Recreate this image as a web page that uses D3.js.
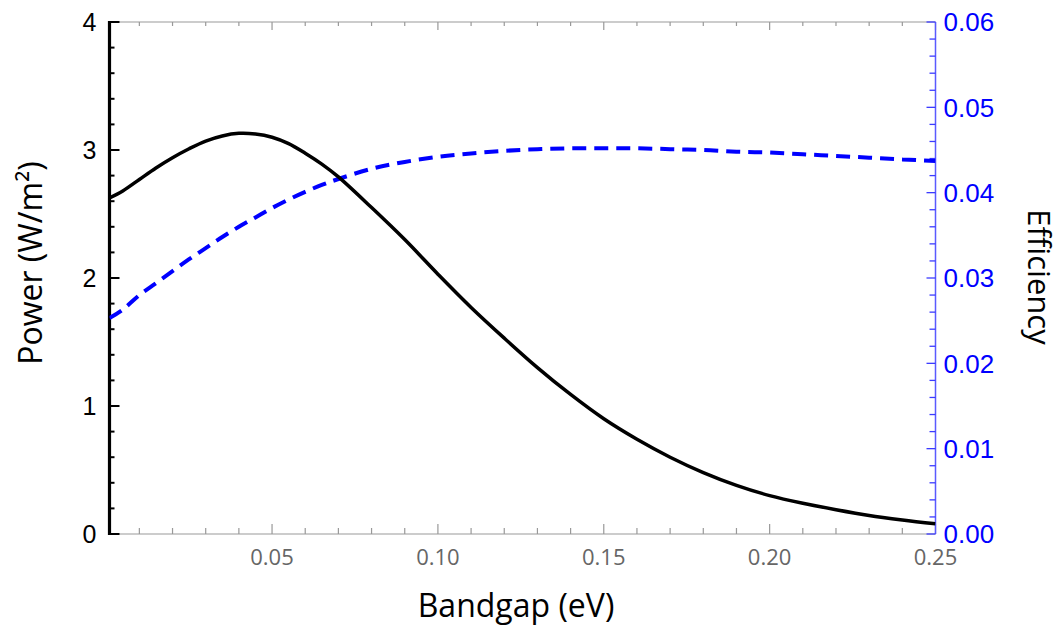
<!DOCTYPE html>
<html>
<head>
<meta charset="utf-8">
<script src="https://cdn.jsdelivr.net/npm/d3@7"></script>
<style>
  html, body { margin: 0; padding: 0; background: #fff; }
  svg { display: block; }
</style>
</head>
<body>
<svg id="chart" width="1063" height="631"></svg>
<script>
// ---- data ----
const bandgap = [0.001, 0.005, 0.01, 0.015, 0.02, 0.025, 0.03, 0.035, 0.04, 0.045, 0.05, 0.055, 0.06,
  0.065, 0.07, 0.08, 0.09, 0.10, 0.11, 0.12, 0.13, 0.14, 0.15, 0.16, 0.17, 0.18, 0.19, 0.20,
  0.21, 0.22, 0.23, 0.24, 0.25];
const power = [2.625, 2.68, 2.77, 2.86, 2.94, 3.01, 3.07, 3.11, 3.13, 3.125, 3.10, 3.05, 2.975,
  2.89, 2.79, 2.55, 2.30, 2.03, 1.77, 1.53, 1.30, 1.09, 0.90, 0.74, 0.60, 0.48, 0.38, 0.30,
  0.24, 0.19, 0.145, 0.11, 0.08];
const efficiency = [0.0253, 0.0263, 0.0280, 0.0294, 0.0308, 0.0322, 0.0335, 0.0348, 0.0360, 0.0371,
  0.0382, 0.0392, 0.0401, 0.0409, 0.0416, 0.0428, 0.0436, 0.0442, 0.0446, 0.0449, 0.0451, 0.0452,
  0.0452, 0.0452, 0.0451, 0.0450, 0.0448, 0.0447, 0.0445, 0.0443, 0.0441, 0.0439, 0.0437];
const xTickValues = [0.05, 0.10, 0.15, 0.20, 0.25];
const xTickLabels = ["0.05", "0.10", "0.15", "0.20", "0.25"];
const powerTicks = [0, 1, 2, 3, 4];
const powerTickLabels = ["0", "1", "2", "3", "4"];
const effTicks = [0, 0.01, 0.02, 0.03, 0.04, 0.05, 0.06];
const effTickLabels = ["0.00", "0.01", "0.02", "0.03", "0.04", "0.05", "0.06"];
const xTitle = "Bandgap (eV)";
const yLeftTitle = "Power (W/m²)";
const yRightTitle = "Efficiency";

(function () {
// ---- layout ----
const svg = d3.select("#chart");
const pLeft = 109.5, pRight = 935.5, pTop = 22, pBottom = 534;

const x = d3.scaleLinear().domain([0.001, 0.25]).range([pLeft, pRight]);
const yP = d3.scaleLinear().domain([0, 4]).range([pBottom, pTop]);
const yE = d3.scaleLinear().domain([0, 0.06]).range([pBottom, pTop]);

const xMinor = d3.range(1, 26).map(i => i / 100);
const pMinor = d3.range(0, 21).map(i => i / 5);
const eMinor = d3.range(0, 31).map(i => i * 0.002);

const near = (a, b) => Math.abs(a - b) < 1e-9;
const isMajor = (v, arr) => arr.some(t => near(t, v));

// bottom axis (gray)
const gB = svg.append("g").attr("transform", `translate(0,${pBottom})`);
gB.append("line").attr("x1", pLeft).attr("x2", pRight).attr("y1", 0).attr("y2", 0)
  .attr("stroke", "#999").attr("stroke-width", 1.2);
gB.selectAll("line.t").data(xMinor).enter().append("line").attr("class", "t")
  .attr("x1", d => x(d)).attr("x2", d => x(d))
  .attr("y1", 0).attr("y2", d => isMajor(d, xTickValues) ? -10 : -6)
  .attr("stroke", "#999").attr("stroke-width", 1.2);
gB.selectAll("text").data(xTickValues).enter().append("text")
  .attr("x", d => x(d)).attr("y", 31)
  .attr("text-anchor", "middle")
  .attr("font-family", "'Open Sans', 'Liberation Sans', sans-serif")
  .attr("font-size", 22).attr("fill", "#666")
  .text((d, i) => xTickLabels[i]);

// top frame (gray)
const gT = svg.append("g").attr("transform", `translate(0,${pTop})`);
gT.append("line").attr("x1", pLeft).attr("x2", pRight).attr("y1", 0).attr("y2", 0)
  .attr("stroke", "#999").attr("stroke-width", 1.2);
gT.selectAll("line.t").data(xMinor).enter().append("line").attr("class", "t")
  .attr("x1", d => x(d)).attr("x2", d => x(d))
  .attr("y1", 0).attr("y2", d => isMajor(d, xTickValues) ? 8 : 4)
  .attr("stroke", "#999").attr("stroke-width", 1.2);

// right axis (blue, efficiency)
const gR = svg.append("g").attr("transform", `translate(${pRight},0)`);
gR.append("line").attr("x1", 0).attr("x2", 0).attr("y1", pTop).attr("y2", pBottom)
  .attr("stroke", "#5a5aff").attr("stroke-width", 1.5);
gR.selectAll("line.t").data(eMinor).enter().append("line").attr("class", "t")
  .attr("x1", 0).attr("x2", d => isMajor(d, effTicks) ? -9 : -6)
  .attr("y1", d => yE(d)).attr("y2", d => yE(d))
  .attr("stroke", "#3b3bff").attr("stroke-width", 1.3);
gR.selectAll("text").data(effTicks).enter().append("text")
  .attr("x", 8).attr("y", d => yE(d))
  .attr("dy", "0.36em")
  .attr("font-family", "'Liberation Sans', Arial, sans-serif")
  .attr("font-size", 26).attr("fill", "#0000ff")
  .text((d, i) => effTickLabels[i]);

// left axis (black, power)
const gL = svg.append("g").attr("transform", `translate(${pLeft},0)`);
gL.selectAll("line.t").data(pMinor).enter().append("line").attr("class", "t")
  .attr("x1", 0).attr("x2", d => isMajor(d, powerTicks) ? 10 : 5)
  .attr("y1", d => yP(d)).attr("y2", d => yP(d))
  .attr("stroke", "#000").attr("stroke-width", 2);
gL.append("line").attr("x1", 0).attr("x2", 0).attr("y1", pTop - 1).attr("y2", pBottom + 1)
  .attr("stroke", "#000").attr("stroke-width", 3.2);
gL.selectAll("text").data(powerTicks).enter().append("text")
  .attr("x", -13).attr("y", d => yP(d))
  .attr("dy", "0.36em").attr("text-anchor", "end")
  .attr("font-family", "'Liberation Sans', Arial, sans-serif")
  .attr("font-size", 25).attr("fill", "#000")
  .text((d, i) => powerTickLabels[i]);

// curves
svg.append("clipPath").attr("id", "plotclip").append("rect")
  .attr("x", pLeft).attr("y", pTop - 5).attr("width", pRight - pLeft).attr("height", pBottom - pTop + 10);

const idx = d3.range(bandgap.length);
const lineP = d3.line().x(i => x(bandgap[i])).y(i => yP(power[i])).curve(d3.curveCatmullRom.alpha(0.5));
const lineE = d3.line().x(i => x(bandgap[i])).y(i => yE(efficiency[i])).curve(d3.curveCatmullRom.alpha(0.5));

svg.append("path").datum(idx).attr("d", lineE)
  .attr("fill", "none").attr("stroke", "#0000ff").attr("stroke-width", 4)
  .attr("stroke-dasharray", "14,8").attr("clip-path", "url(#plotclip)");
svg.append("path").datum(idx).attr("d", lineP)
  .attr("fill", "none").attr("stroke", "#000").attr("stroke-width", 3.5)
  .attr("clip-path", "url(#plotclip)");

// titles
svg.append("text").attr("x", 516).attr("y", 617).attr("text-anchor", "middle")
  .attr("font-family", "'Open Sans', sans-serif").attr("font-size", 32).attr("fill", "#000")
  .text(xTitle);
svg.append("text").attr("transform", "translate(42,263) rotate(-90)").attr("text-anchor", "middle")
  .attr("font-family", "'Open Sans', sans-serif").attr("font-size", 32).attr("fill", "#000")
  .text(yLeftTitle);
svg.append("text").attr("transform", "translate(1028,277) rotate(90)").attr("text-anchor", "middle")
  .attr("font-family", "'Open Sans', sans-serif").attr("font-size", 31).attr("fill", "#000")
  .text(yRightTitle);
})();
</script>
</body>
</html>
